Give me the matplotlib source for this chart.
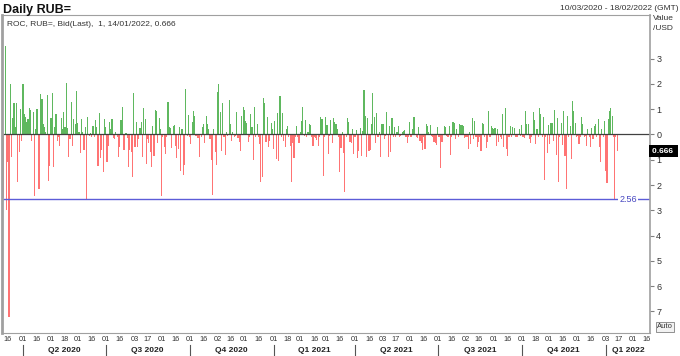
import numpy as np
import pandas as pd
import matplotlib
matplotlib.use("Agg")
import matplotlib.pyplot as plt

plt.rcParams['font.family'] = ['Liberation Sans', 'DejaVu Sans']

# ROC of RUB= (daily, %), positive values drawn downward (inverted axis)
start_date = "2020-03-10"
last_date = "2022-01-14"
end_date = "2022-02-18"

roc = [
    2.4, 2.5, -3.5, 3.0, 1.1, 7.2, -2.0, 0.9, -0.65, -1.25,
    -0.3, -1.25, 1.9, 0.7, -1.0, 0.25, -2.0, -0.8, -0.7, -0.5,
    -0.6, -1.05, -0.95, 0.25, -0.9, 2.45, -0.2, -1.0, 2.15, 2.15,
    -1.6, -1.4, -0.4, -0.3, -0.1, -1.55, 1.85, 1.25, -0.65, -1.65,
    1.3, -0.3, -0.8, 0.25, 0.1, 0.45, -0.65, -0.2, -0.9, -0.3,
    -2.05, -0.25, 0.9, 0.2, -1.3, 0.45, -0.6, -0.4, -1.7, -0.45,
    -0.1, 0.75, -0.6, -0.1, 0.6, -0.3, 2.55, -0.7, 0.05, -0.05,
    0.1, -0.35, 0.1, -0.55, -0.3, 1.25, -0.85, 0.95, 0.6, 1.5,
    -0.6, -0.3, 1.1, 0.45, -0.5, -0.2, -0.6, 0.15, 0.2, -0.1,
    0.1, 0.9, 0.5, -0.55, -1.1, 0.6, 0.6, -0.05, 0.15, 1.3,
    0.6, 0.7, 1.7, -1.65, 0.5, -0.5, 0.5, 0.2, -0.25, -0.5,
    0.9, -1.05, -0.6, 1.15, 0.2, 0.35, 0.7, 1.3, -0.35, 0.85,
    -0.97, -0.93, 0.35, -0.63, -0.2, 2.42, 0.1, 0.5, 0.78, 0.1,
    -1.3, -0.28, -0.26, 0.55, -0.35, -0.38, 0.45, 0.95, 0.58, -0.3,
    1.43, -0.2, 1.6, 1.21, -1.8, 0.05, -0.76, 0.1, 0.38, -0.5,
    -0.93, -0.74, 0.05, 0.16, 0.16, 0.91, 0.1, -0.28, -0.4, 0.32,
    -0.74, -0.4, -0.2, 0.2, 1.0, 2.38, -0.2, 0.71, 1.21, -1.66,
    -1.99, -0.87, 0.64, -1.24, 0.12, 0.82, -0.08, 0.08, -1.36, -0.4,
    0.25, -0.1, 0.1, 0.05, -0.87, 0.16, 0.29, 0.66, -0.74, -1.07,
    -0.96, -0.54, -0.47, 0.29, 0.1, -0.79, -0.3, 1.01, -1.07, 0.1,
    -0.42, 0.1, 0.38, 1.89, 1.7, -1.42, -1.26, 0.29, -0.7, 0.51,
    0.25, -0.47, -0.2, 0.58, -0.54, 0.97, -0.83, 1.04, -1.5, 0.1,
    -0.83, 0.25, 0.51, -0.2, -0.34, 0.1, 0.47, 1.89, 0.34, 0.95,
    0.1, -0.32, 0.1, 0.32, -0.1, -0.54, -1.1, 0.05, -0.58, 0.1,
    -0.1, -0.4, -0.37, 0.1, 0.45, 0.1, 0.16, 0.21, 0.45, 0.1,
    -0.7, -0.6, 1.66, 0.1, -0.7, -0.37, 0.79, 0.05, -0.58, 0.32,
    -0.64, -0.5, -0.4, -0.21, 0.1, 1.5, 0.53, -0.1, 0.75, 2.29,
    0.1, -0.66, -0.5, 0.29, 0.32, -0.21, 0.79, 0.1, -0.18, 0.95,
    0.64, -0.26, 0.87, -0.14, -1.74, -0.74, 0.91, -0.66, 0.64, 0.63,
    -0.41, -1.63, -0.7, 0.32, -0.84, 0.1, -0.1, 0.91, -0.4, -0.41,
    0.18, 0.05, -0.87, 0.91, -0.34, 0.71, -0.64, 0.1, -0.29, 0.1,
    -0.1, -0.34, 0.1, 0.05, -0.1, -0.14, -0.18, 0.1, 0.34, 0.1,
    -0.5, 0.1, -0.21, -0.68, -0.68, 0.1, 0.16, -0.28, 0.25, 0.34,
    0.6, 0.1, 0.58, -0.43, -0.34, -0.1, -0.39, 0.08, 0.1, 0.29,
    0.34, 0.42, -0.29, 0.1, 1.34, 0.29, 0.29, -0.32, -0.28, 0.08,
    0.1, -0.32, 0.82, 0.1, -0.5, -0.45, 0.18, -0.21, 0.1, -0.4,
    -0.39, -0.37, -0.32, 0.16, 0.12, 0.1, 0.58, -0.1, 0.36, -0.63,
    0.18, -0.54, 0.1, 0.51, 0.29, 0.1, 0.64, -0.47, -0.41, 0.1,
    0.55, 0.29, -0.93, 0.1, -0.34, -0.25, -0.21, -0.24, 0.45, -0.21,
    0.29, 0.1, 0.18, -0.79, 0.51, -1.03, 0.58, 0.84, 0.1, -0.32,
    0.1, -0.28, -0.24, 0.1, 0.12, 0.1, -0.21, 0.05, -0.37, 0.1,
    0.16, -0.93, -0.41, -0.41, 0.18, 0.32, 0.1, -0.87, -0.58, 0.38,
    -0.21, 0.1, -1.03, -0.8, 0.1, -0.67, 1.8, 0.1, 0.75, -0.39,
    0.38, -0.45, -0.47, 0.25, -0.97, 0.82, -0.63, 1.87, 0.1, -0.47,
    0.42, -0.92, 0.84, 2.16, -0.74, 0.1, -0.34, 0.97, -1.33, -0.93,
    -0.45, 0.1, 0.05, 0.36, 0.1, -0.67, -0.41, 0.1, 0.05, 0.45,
    -0.21, 0.1, 0.51, -0.24, 0.18, -0.34, -0.41, 0.1, -0.6, 0.51,
    1.1, -0.21, 0.1, -0.54, 1.43, 1.93, -0.6, -0.93, -1.04, -0.74,
    0.1, 2.56, 0.1, 0.666,
]

y_ticks = [-3, -2, -1, 0, 1, 2, 3, 4, 5, 6, 7]
quarter_names = ["Q2 2020", "Q3 2020", "Q4 2020", "Q1 2021", "Q2 2021",
                 "Q3 2021", "Q4 2021", "Q1 2022"]
quarter_starts = ["2020-04-01", "2020-07-01", "2020-10-01", "2021-01-01",
                  "2021-04-01", "2021-07-01", "2021-10-01", "2022-01-01"]
level = 2.56
last_value = 0.666

days = pd.bdate_range(start_date, end_date)
roc = np.array(roc)
x = np.arange(len(roc))

fig = plt.figure(figsize=(6.8, 3.56), dpi=100)
ax = fig.add_axes([2 / 680, 1 - 333 / 356, 648 / 680, 318 / 356])

colors = np.where(roc > 0, "#ff7474", "#5fb85f")
ax.bar(x, roc, width=0.9, color=colors, linewidth=0)
ax.axhline(0, color="#404040", lw=0.9)
ax.axhline(level, color="#5c5cd8", lw=1)

ax.set_xlim(-0.47, len(days) - 0.2)
ax.set_ylim(7.85, -4.72)

# right value axis
ax.yaxis.tick_right()
ax.set_yticks(y_ticks)
ax.set_yticklabels([f"{abs(t):g}" for t in y_ticks])
ax.tick_params(axis="y", length=3, width=0.8, color="#808080",
               labelsize=6.5, labelcolor="#333333", pad=1.5)

# date ticks: first business day on/after the 1st and 16th of each month
tick_pos, tick_lab = [], []
for m in pd.date_range("2020-03-01", end_date, freq="MS"):
    for d in (1, 16):
        t = m + pd.Timedelta(days=d - 1)
        if t < days[0] or t > days[-1]:
            continue
        i = days.searchsorted(t)
        tick_pos.append(i)
        tick_lab.append(days[i].strftime("%d"))
ax.set_xticks(tick_pos)
ax.set_xticklabels(tick_lab)
ax.tick_params(axis="x", length=0, labelsize=5.3, labelcolor="#333333", pad=2)

# quarter labels and separators
xt = ax.get_xaxis_transform()
qpos = [days.searchsorted(pd.Timestamp(q)) for q in quarter_starts]
right_edge = ax.get_xlim()[1]
for k, name in enumerate(quarter_names):
    s = qpos[k]
    e = qpos[k + 1] if k + 1 < len(qpos) else right_edge
    ax.plot([s, s], [-0.037, -0.072], transform=xt, color="#555555",
            lw=0.8, clip_on=False)
    ax.text((s + e) / 2, -0.056, name, transform=xt, ha="center", va="center",
            fontsize=6, fontweight="bold", color="#222222")

for side in ["left", "top", "right", "bottom"]:
    ax.spines[side].set_color("#a0a0a0")
ax.spines["left"].set_linewidth(2)
ax.spines["right"].set_linewidth(1.2)
ax.spines["top"].set_linewidth(0.8)
ax.spines["bottom"].set_linewidth(0.8)

yt = ax.get_yaxis_transform()
ax.text(0.966, level, f"{level:.2f}", transform=yt, ha="center", va="center",
        fontsize=6.5, color="#4646c0",
        bbox=dict(boxstyle="square,pad=0.15", fc="white", ec="none"))
ax.text(1.003, last_value, f"{last_value:.3f} ", transform=yt, ha="left",
        va="center", fontsize=6, fontweight="bold", color="white",
        bbox=dict(boxstyle="square,pad=0.3", fc="black", ec="none"),
        clip_on=False)

fig.text(3 / 680, 1 - 10 / 356, "Daily RUB=", fontsize=9, fontweight="bold",
         va="center", color="#111111")
fig.text(7 / 680, 1 - 24 / 356,
         f"ROC, RUB=, Bid(Last),  1, 14/01/2022, {last_value:.3f}",
         fontsize=6, va="center", color="#333333")
fig.text(678 / 680, 1 - 9 / 356, "10/03/2020 - 18/02/2022 (GMT)", fontsize=6,
         ha="right", va="center", color="#333333")
fig.text(653 / 680, 1 - 18 / 356, "Value", fontsize=6, va="center",
         color="#333333")
fig.text(653 / 680, 1 - 28 / 356, "/USD", fontsize=6, va="center",
         color="#333333")
fig.text(665 / 680, 1 - 327 / 356, "Auto", fontsize=5.5, ha="center",
         va="center", color="#333333",
         bbox=dict(boxstyle="square,pad=0.2", fc="#f2f2f2", ec="#808080", lw=0.6))

fig.savefig("out.png", dpi=100)
